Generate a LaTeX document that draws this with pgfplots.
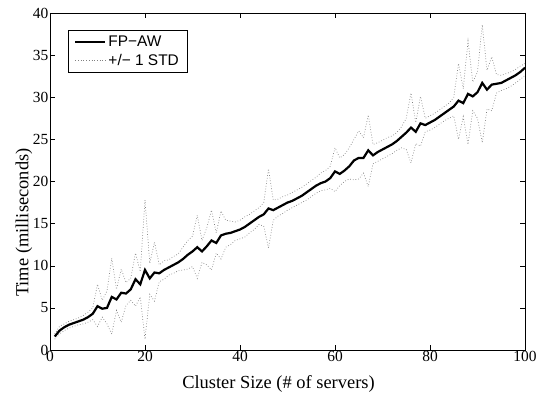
\documentclass[border=0pt]{standalone}
\usepackage{fontspec}
\setmainfont{Liberation Serif}
\newfontfamily\legendfont{Liberation Sans}
\usepackage{pgfplots}
\pgfplotsset{compat=1.18}
\usepackage{pgfplotstable}

\pgfplotstableread{
x m u l
1 1.6 1.9 1.3
2 2.3 2.8 1.9
3 2.7 3.1 2.3
4 3.0 3.4 2.6
5 3.2 3.6 2.8
6 3.4 3.8 3.0
7 3.6 4.1 3.1
8 3.9 4.5 3.3
9 4.3 5.0 3.6
10 5.2 7.8 2.8
11 4.9 5.9 3.9
12 5.0 7.0 3.1
13 6.3 10.9 1.9
14 6.0 7.2 4.7
15 6.8 9.6 3.3
16 6.7 8.0 5.3
17 7.2 8.5 5.9
18 8.4 11.5 5.2
19 7.8 9.3 6.3
20 9.5 17.8 1.3
21 8.5 10.3 6.6
22 9.2 12.8 5.8
23 9.1 10.1 8.1
24 9.5 10.6 8.4
25 9.8 10.7 8.9
26 10.1 11.1 9.1
27 10.4 11.4 9.4
28 10.8 12.2 9.5
29 11.3 13.0 9.6
30 11.7 13.5 9.9
31 12.2 16.0 8.5
32 11.7 13.0 10.4
33 12.3 14.5 10.1
34 13.0 16.6 9.5
35 12.7 13.9 11.5
36 13.6 16.5 10.8
37 13.8 15.4 12.2
38 13.9 15.3 12.5
39 14.1 15.2 13.0
40 14.3 15.4 13.2
41 14.6 15.8 13.4
42 15.0 16.1 13.9
43 15.4 16.5 14.3
44 15.8 16.9 14.9
45 16.1 17.5 14.7
46 16.8 21.5 12.1
47 16.6 17.8 15.4
48 16.9 17.9 15.9
49 17.2 18.2 16.2
50 17.5 18.4 16.6
51 17.7 18.7 16.9
52 18.0 19.0 17.2
53 18.3 19.3 17.5
54 18.7 19.7 17.8
55 19.1 20.1 18.2
56 19.5 20.5 18.6
57 19.8 21.0 18.9
58 20.0 21.3 19.0
59 20.4 21.8 19.2
60 21.2 24.0 18.8
61 20.9 22.8 19.5
62 21.3 23.2 20.0
63 21.8 24.0 20.3
64 22.5 25.0 20.2
65 22.8 26.0 20.3
66 22.8 25.2 21.0
67 23.7 27.9 19.4
68 23.1 24.4 22.1
69 23.5 24.6 22.4
70 23.8 24.9 22.7
71 24.1 25.2 23.0
72 24.4 25.4 23.3
73 24.8 25.8 23.7
74 25.3 26.5 24.0
75 25.8 27.5 23.8
76 26.4 30.5 22.2
77 25.9 27.0 24.5
78 26.9 30.1 24.2
79 26.7 27.5 25.9
80 27.0 27.8 26.1
81 27.3 28.1 26.4
82 27.7 28.5 26.8
83 28.1 28.9 27.2
84 28.5 29.3 27.5
85 28.9 30.0 27.8
86 29.6 34.0 25.0
87 29.3 31.0 27.7
88 30.4 36.7 24.4
89 30.1 31.8 28.4
90 30.6 33.0 27.5
91 31.7 38.6 24.6
92 30.9 33.2 28.6
93 31.5 34.8 28.4
94 31.6 32.7 30.5
95 31.7 32.6 30.8
96 32.0 32.8 31.0
97 32.3 33.0 31.3
98 32.6 33.3 31.7
99 33.0 33.7 32.1
100 33.5 34.0 32.6
}\data

\begin{document}
\begin{tikzpicture}
\begin{axis}[
  scale only axis, width=475bp, height=337bp,
  xmin=0, xmax=100, ymin=0, ymax=40,
  xtick={0,20,...,100}, ytick={0,5,...,40},
  tick align=inside, tick pos=both, major tick length=5bp,
  tick style={black, line width=0.5bp},
  axis line style={line width=0.8bp},
  /pgf/number format/assume math mode=true,
  ticklabel style={font=\fontsize{15.5}{15.5}\selectfont},
  xticklabel style={inner sep=1.5bp},
  yticklabel style={inner sep=1.5bp},
  xlabel={Cluster Size (\# of servers)},
  ylabel={Time (milliseconds)},
  every axis x label/.style={at={(rel axis cs:0.481,0)}, anchor=base, yshift=-38bp, font=\fontsize{18.5}{18.5}\selectfont},
  every axis y label/.style={at={(rel axis cs:0,0.378)}, rotate=90, anchor=center, yshift=26bp, font=\fontsize{18.5}{18.5}\selectfont},
  legend style={at={(rel axis cs:0,1)}, anchor=north west, xshift=18bp, yshift=-17bp,
    draw=black, line width=0.6bp, font=\legendfont\fontsize{15.5}{15.5}\selectfont,
    inner xsep=6bp, inner ysep=3.5bp, row sep=2bp},
  legend cell align=left,
  legend image code/.code={\draw[#1] (0bp,0bp) -- (30bp,0bp);},
]
\addplot[black, line width=2.2bp] table[x=x, y=m] {\data};
\addlegendentry{FP\textminus AW}
\addplot[gray, dotted, line width=0.7bp] table[x=x, y=u] {\data};
\addlegendentry{+/\textminus\ 1 STD\hspace{5bp}}
\addplot[gray, dotted, line width=0.7bp, forget plot] table[x=x, y=l] {\data};
\end{axis}
\pgfresetboundingbox
\path[use as bounding box] ([shift={(-50bp,-44bp)}]current axis.south west) rectangle ([shift={(12bp,13bp)}]current axis.north east);
\end{tikzpicture}
\end{document}
